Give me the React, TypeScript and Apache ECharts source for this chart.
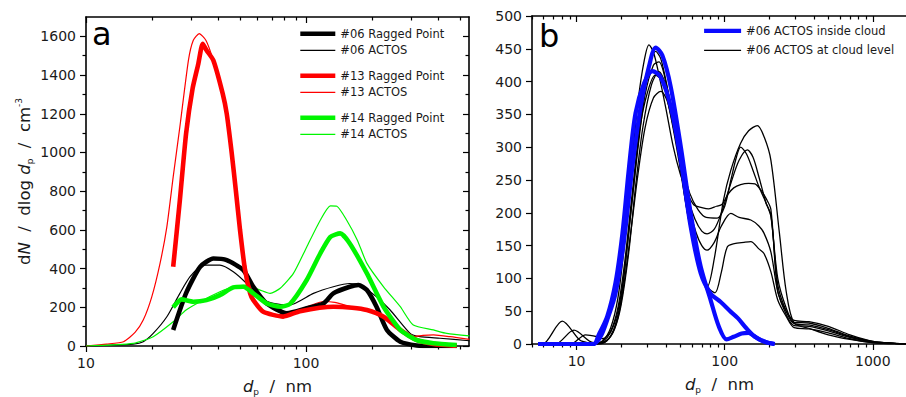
import React, { useEffect, useRef } from 'react';
import * as echarts from 'echarts';

// ---------- Panel a: [d_p (nm), dN/dlog d_p (cm^-3)] ----------
const rp06: [number, number][] = [[24.9,83],[28.5,273],[33.0,409],[37.9,452],[43.6,444],[51.9,392],[57.6,306],[66.2,220],[81.7,169],[100.7,195],[120,220],[133,272],[158,306],[173,315],[189,289],[209,203],[233,83],[268,22],[318,3],[379,0],[484,0]];
const actos06: [number, number][] = [[10,0],[16.4,10],[18.2,22],[20.2,65],[23.3,151],[26.7,272],[29.7,358],[34.1,418],[40.6,418],[46.7,384],[53.7,323],[61.8,246],[71,220],[84.5,212],[108,272],[133,306],[158,323],[176,315],[209,254],[241,186],[297,65],[329,48],[406,40],[552,27]];
const rp13: [number, number][] = [[24.9,409],[26.7,753],[28.5,1098],[30.5,1330],[32.4,1459],[33.9,1562],[35.3,1528],[37.9,1476],[41.8,1304],[43.6,1200],[45.9,1000],[48,800],[50.1,600],[52.7,400],[55.7,272],[57.6,237],[63.9,177],[78.7,152],[93.9,180],[133,203],[162,198],[189,186],[225,151],[268,83],[318,31],[379,10],[484,0]];
const actos13: [number, number][] = [[10,0],[12.4,10],[14.8,22],[16.7,70],[18.2,134],[19.9,254],[21.7,427],[23.3,616],[24.9,874],[26.7,1132],[29.2,1476],[30.7,1579],[32.7,1614],[35.1,1579],[37.9,1476],[41.8,1304],[45.9,1000],[50.1,600],[55.7,290],[60,210],[66,175],[75,162],[85,170],[95,190],[105,210],[120,230],[135,225],[158,205],[175,195],[190,185],[210,170],[240,130],[270,80],[307,48],[340,55],[379,57],[452,48],[552,34]];
const rp14: [number, number][] = [[24.9,200],[27.2,241],[30.7,229],[35.3,237],[40.6,263],[46.7,303],[51.9,306],[57.6,272],[66.2,220],[76.3,203],[84.5,217],[100.7,341],[116,478],[129,564],[143,582],[158,530],[189,375],[225,203],[268,83],[318,31],[379,14],[484,5]];
const actos14: [number, number][] = [[10,0],[16.4,14],[20.2,48],[24.9,125],[28.5,186],[33,229],[40.6,280],[46.7,306],[53.7,315],[61.8,289],[68.7,272],[76.3,298],[87.6,375],[100.7,512],[116,650],[129,724],[138,722],[153,650],[171,547],[189,427],[225,306],[268,203],[307,108],[379,83],[436,65],[552,52]];

// ---------- Panel b ----------
const inside1: [number, number][] = [[5.5,0],[13,0],[14.5,11],[16.1,37],[18.3,77],[20.9,158],[23.8,270],[27.1,362],[30.8,423],[34.2,452],[37.9,440],[43.2,392],[50.5,301],[58.9,199],[68.8,118],[80.3,67],[91.5,26],[103,7],[115,11],[130,16],[145,17],[158,12],[175,6],[195,2],[218,0]];
const inside2: [number, number][] = [[5.5,0],[13,0],[14.1,14],[16.1,42],[18.3,93],[20.4,169],[22.6,270],[25,352],[28.5,397],[32.5,416],[36.9,407],[43.2,362],[50.5,280],[58.9,179],[68.8,108],[80.3,77],[94,64],[110,49],[123,39],[140,24],[160,11],[184,4],[216,0]];
const level1: [number, number][] = [[5.5,0],[13,0],[15,5],[17,25],[19,70],[21,150],[23.5,270],[26,370],[28.5,430],[30.8,456],[33,445],[36,410],[40,360],[45,300],[50,260],[56,230],[62,212],[70,208],[78,206],[88,210],[96,213],[105,228],[115,238],[128,243],[145,245],[160,244],[175,235],[190,222],[205,205],[228,80],[260,50],[294,36],[370,34],[500,27],[700,14],[1000,4],[1400,1],[1700,0]];
const level2: [number, number][] = [[5.5,0],[14,0],[16,5],[18,25],[20,70],[22,150],[24.5,250],[27,340],[30,410],[34.2,446],[37,435],[41,390],[46,330],[52,270],[58,230],[66,205],[75,193],[89,192],[100,210],[110,250],[120,285],[128,300],[140,290],[155,265],[170,240],[190,215],[205,194],[228,100],[260,55],[294,33],[370,32],[500,24],[700,12],[1000,4],[1400,1],[1700,0]];
const level3: [number, number][] = [[5.5,0],[5.9,0],[8,35],[10.5,6],[12,2],[14,1],[16,5],[18,22],[20,60],[22.5,140],[25,240],[28,330],[32,395],[35.9,415],[40,395],[45,340],[50,280],[56,225],[63,190],[70,172],[76,168],[85,175],[95,200],[110,245],[125,280],[142,296],[155,285],[170,255],[190,215],[205,197],[228,90],[260,50],[294,31],[370,29],[500,22],[700,11],[1000,3],[1400,1],[1700,0]];
const level4: [number, number][] = [[5.5,0],[7.2,0],[9.6,21],[13,2],[15,3],[17,12],[19,40],[21,95],[23.5,180],[26,260],[29,330],[33,375],[37,385],[41,370],[46,320],[52,260],[58,205],[64,170],[70,150],[76,143],[85,155],[95,180],[110,199],[125,193],[150,189],[170,180],[184,169],[205,140],[228,80],[260,45],[294,28],[370,27],[500,20],[700,10],[1000,3],[1400,1],[1700,0]];
const level5: [number, number][] = [[5.5,0],[9.1,0],[11.5,14],[13.8,11],[15,8],[17,20],[19,55],[21,120],[23.5,220],[26,310],[29,370],[34,410],[38,400],[43,350],[49,280],[55,210],[62,150],[70,110],[78,85],[86,78],[95,110],[104,148],[116,153],[135,155],[150,156],[170,145],[184,138],[205,110],[228,67],[260,42],[294,25],[370,23],[500,17],[700,8],[1000,2],[1400,0.5],[1700,0]];
const level6: [number, number][] = [[5.5,0],[13,0],[15,4],[17,18],[19,50],[21,110],[23.5,210],[26,300],[29,380],[33,425],[36,430],[40,400],[45,340],[51,260],[57,190],[64,140],[70,110],[76.5,88],[85,130],[98,219],[110,265],[128,306],[145,325],[166,333],[185,315],[205,280],[234,169],[260,80],[294,32],[370,24],[500,14],[700,7],[1000,2],[1400,0.5],[1700,0]];

// ---------- Ticks ----------
const xMajorA = [10, 100];
const xMinorA = [20, 30, 40, 50, 60, 70, 80, 90, 200, 300, 400, 500];
const yMajorA = [0, 200, 400, 600, 800, 1000, 1200, 1400, 1600];
const yMinorA = [100, 300, 500, 700, 900, 1100, 1300, 1500];
const xMajorB = [10, 100, 1000];
const xMinorB = [5, 6, 7, 8, 9, 20, 30, 40, 50, 60, 70, 80, 90, 200, 300, 400, 500, 600, 700, 800, 900];
const yMajorB = [0, 50, 100, 150, 200, 250, 300, 350, 400, 450, 500];

const FONT = 'DejaVu Sans';
const lg = (v: number) => Math.log10(v);
const toXY = (arr: [number, number][]) => arr.map(([d, v]) => [lg(d), v]);

const nameRich = {
  n: { fontSize: 16.5, fontFamily: FONT, color: '#1a1a1a', lineHeight: 20 },
  i: { fontSize: 16.5, fontFamily: FONT, fontStyle: 'italic', color: '#1a1a1a', lineHeight: 20 },
  s: { fontSize: 9, fontFamily: FONT, color: '#1a1a1a', lineHeight: 9, verticalAlign: 'bottom' },
  u: { fontSize: 9, fontFamily: FONT, color: '#1a1a1a', lineHeight: 9, verticalAlign: 'top' },
};

function tickAxis(opts: any) {
  const { gridIndex, position, min, max, ticks, length, inside, line, labels, formatter, name, nameGap, nameRotate } = opts;
  return {
    type: 'value',
    gridIndex,
    position,
    min,
    max,
    name: name || '',
    nameLocation: 'middle',
    nameGap: nameGap || 0,
    nameRotate,
    nameTextStyle: { rich: nameRich },
    axisLine: { show: !!line, onZero: false, lineStyle: { color: '#000', width: 1.6 } },
    axisTick: { show: true, customValues: ticks, length, inside: !!inside, lineStyle: { color: '#000', width: 1.2 } },
    axisLabel: labels
      ? { show: true, customValues: labels, formatter, fontSize: 14, fontFamily: FONT, color: '#1a1a1a', margin: 10 }
      : { show: false },
    splitLine: { show: false },
    minorTick: { show: false },
  };
}

export default function App() {
  const ref = useRef<HTMLDivElement>(null);
  useEffect(() => {
    document.body.style.margin = '0';
    const chart = echarts.init(ref.current!, undefined, { renderer: 'svg' });
    const xa0 = lg(10), xa1 = lg(550);
    const xb0 = lg(5), xb1 = lg(1700);
    const fmtPow = (v: number) => String(Math.round(Math.pow(10, v)));

    const xAxis = [
      tickAxis({ gridIndex: 0, position: 'bottom', min: xa0, max: xa1, ticks: xMajorA.map(lg), length: 6, line: true, labels: xMajorA.map(lg), formatter: fmtPow, name: '{i|d}{s|p}{n|  /  nm}', nameGap: 30 }),
      tickAxis({ gridIndex: 0, position: 'bottom', min: xa0, max: xa1, ticks: xMinorA.map(lg), length: 3.5 }),
      tickAxis({ gridIndex: 0, position: 'top', min: xa0, max: xa1, ticks: xMajorA.map(lg), length: 6, inside: true, line: true }),
      tickAxis({ gridIndex: 0, position: 'top', min: xa0, max: xa1, ticks: xMinorA.map(lg), length: 3.5, inside: true }),
      tickAxis({ gridIndex: 1, position: 'bottom', min: xb0, max: xb1, ticks: xMajorB.map(lg), length: 6, line: true, labels: xMajorB.map(lg), formatter: fmtPow, name: '{i|d}{s|p}{n|  /  nm}', nameGap: 30 }),
      tickAxis({ gridIndex: 1, position: 'bottom', min: xb0, max: xb1, ticks: xMinorB.map(lg), length: 3.5 }),
      tickAxis({ gridIndex: 1, position: 'top', min: xb0, max: xb1, ticks: xMajorB.map(lg), length: 6, inside: true, line: true }),
      tickAxis({ gridIndex: 1, position: 'top', min: xb0, max: xb1, ticks: xMinorB.map(lg), length: 3.5, inside: true }),
    ];
    const yAxis = [
      tickAxis({ gridIndex: 0, position: 'left', min: 0, max: 1700, ticks: yMajorA, length: 6, line: true, labels: yMajorA, formatter: (v: number) => String(v), name: '{n|d}{i|N}{n|  /  dlog }{i|d}{s|p}{n|  /  cm}{u|-3}', nameGap: 52, nameRotate: 90 }),
      tickAxis({ gridIndex: 0, position: 'left', min: 0, max: 1700, ticks: yMinorA, length: 3.5 }),
      tickAxis({ gridIndex: 0, position: 'right', min: 0, max: 1700, ticks: yMajorA, length: 6, inside: true, line: true }),
      tickAxis({ gridIndex: 0, position: 'right', min: 0, max: 1700, ticks: yMinorA, length: 3.5, inside: true }),
      tickAxis({ gridIndex: 1, position: 'left', min: 0, max: 500, ticks: yMajorB, length: 6, line: true, labels: yMajorB, formatter: (v: number) => String(v) }),
    ];

    const thin = 1.2, thick = 4.6;
    const GREEN = '#00f500', RED = '#ff0000', BLUE = '#0a0aff';
    const lineA = (name: string, data: [number, number][], color: string, width: number, z: number) => ({
      type: 'line', name, xAxisIndex: 0, yAxisIndex: 0, data: toXY(data), symbol: 'none', showSymbol: false, smooth: 0.2,
      lineStyle: { color, width }, itemStyle: { color }, z, silent: true,
    });
    const lineB = (name: string, data: [number, number][], color: string, width: number, z: number) => ({
      type: 'line', name, xAxisIndex: 4, yAxisIndex: 4, data: toXY(data), symbol: 'none', showSymbol: false, smooth: 0.3,
      lineStyle: { color, width }, itemStyle: { color }, z, silent: true,
    });

    const series = [
      lineA('#06 ACTOS', actos06, '#000000', thin, 2),
      lineA('#13 ACTOS', actos13, RED, thin, 2),
      lineA('#14 ACTOS', actos14, GREEN, thin, 2),
      lineA('#06 Ragged Point', rp06, '#000000', thick, 3),
      lineA('#13 Ragged Point', rp13, RED, thick, 3),
      lineA('#14 Ragged Point', rp14, GREEN, thick, 3),
      ...[level1, level2, level3, level4, level5, level6].map((d) => lineB('#06 ACTOS at cloud level', d, '#000000', 1.3, 2)),
      lineB('#06 ACTOS inside cloud', inside1, BLUE, 4.2, 3),
      lineB('#06 ACTOS inside cloud', inside2, BLUE, 4.2, 3),
    ];

    const legendBase = {
      orient: 'vertical', itemHeight: 14, selectedMode: false,
      textStyle: { fontSize: 11.5, fontFamily: FONT, color: '#1a1a1a' },
      lineStyle: { width: 'inherit' },
      itemStyle: { opacity: 0, borderWidth: 0 },
      padding: 0,
    };

    chart.setOption({
      animation: false,
      backgroundColor: '#ffffff',
      grid: [
        { left: 86, top: 17, width: 383, height: 329, outerBoundsMode: 'none', containLabel: false },
        { left: 532, top: 16, width: 375, height: 328, outerBoundsMode: 'none', containLabel: false },
      ],
      xAxis,
      yAxis,
      legend: [
        { ...legendBase, data: ['#06 Ragged Point', '#06 ACTOS'], left: 298, top: 27.8, itemWidth: 35, itemGap: 4.6 },
        { ...legendBase, data: ['#13 Ragged Point', '#13 ACTOS'], left: 298, top: 69.8, itemWidth: 35, itemGap: 4.6 },
        { ...legendBase, data: ['#14 Ragged Point', '#14 ACTOS'], left: 298, top: 111.8, itemWidth: 35, itemGap: 4.6 },
        { ...legendBase, data: ['#06 ACTOS inside cloud', '#06 ACTOS at cloud level'], left: 702, top: 24.8, itemWidth: 37, itemGap: 7.6 },
      ],
      graphic: [
        { type: 'text', x: 92, y: 34, style: { text: 'a', fontSize: 32, fontFamily: FONT, fill: '#000', verticalAlign: 'middle' } },
        { type: 'text', x: 539, y: 36, style: { text: 'b', fontSize: 32, fontFamily: FONT, fill: '#000', verticalAlign: 'middle' } },
      ],
      series,
    });
    return () => chart.dispose();
  }, []);
  return <div ref={ref} style={{ position: 'absolute', left: 0, top: 0, width: 906, height: 397 }} />;
}
